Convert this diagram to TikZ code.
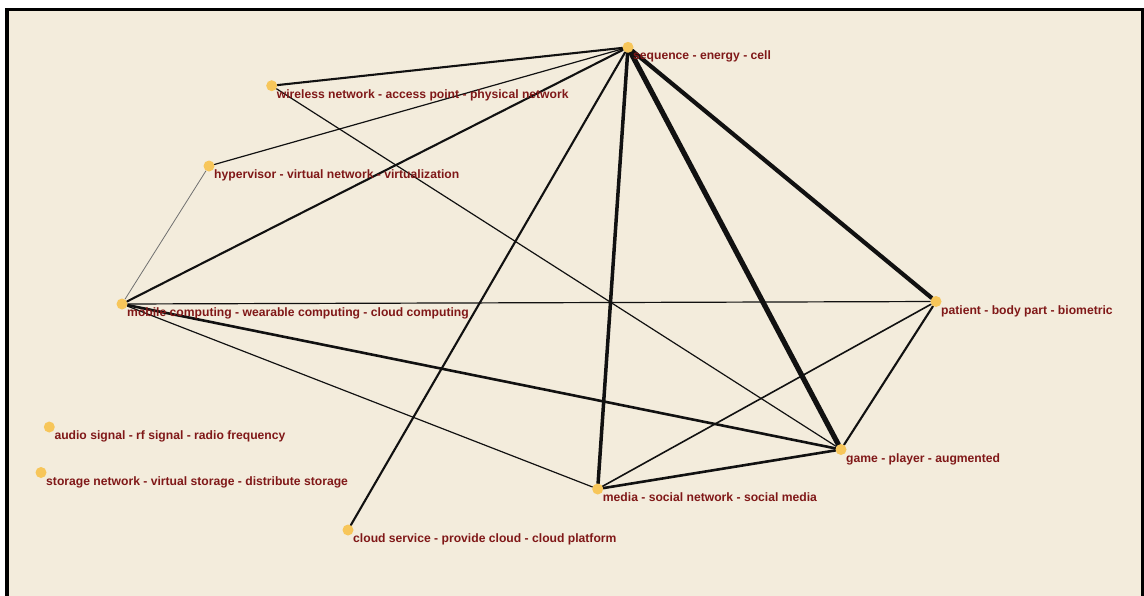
\documentclass[tikz,border=0pt]{standalone}
\usepackage{fontspec}
\setmainfont{Liberation Sans}
\usetikzlibrary{calc}
\definecolor{paper}{RGB}{243,236,220}
\definecolor{dotc}{RGB}{247,198,90}
\definecolor{lblc}{RGB}{128,24,24}
\definecolor{edgec}{RGB}{17,17,17}
\pgfdeclarelayer{bg}
\pgfdeclarelayer{edges}
\pgfsetlayers{bg,edges,main}
\tikzset{
  dot/.style={circle, fill=dotc, inner sep=0pt, minimum size=11pt},
  lbl/.style={anchor=base west, inner sep=0pt, text=lblc,
    font=\fontsize{12.15}{14}\selectfont\bfseries},
  link/.style={draw=edgec, line cap=round},
  w1/.style={link, line width=0.8pt, draw=edgec!60},
  w2/.style={link, line width=1.2pt},
  w3/.style={link, line width=1.6pt},
  w4/.style={link, line width=2.1pt},
  w5/.style={link, line width=2.6pt},
  w6/.style={link, line width=3.5pt},
  w7/.style={link, line width=4.2pt},
  w8/.style={link, line width=5.2pt},
}
% place a dot and its caption below right of it
\newcommand{\term}[4]{%
  \node[dot] (#1) at (#2,#3) {};
  \node[lbl] (#1-t) at ($(#1.center)+(5,12.5)$) {#4};
}
\begin{document}
\begin{tikzpicture}[x=1pt, y=-1pt]
\useasboundingbox (0,0) rectangle (1144,595);
\begin{pgfonlayer}{bg}
  \fill[white] (0,0) rectangle (1144,595);
  \fill[paper] (7,9.5) rectangle (1143,600);
  \draw[line width=3.5pt] (7,600) -- (7,9.5) -- (1143,9.5) -- (1143,600);
\end{pgfonlayer}

\term{seq}{628}{47.3}{sequence - energy - cell}
\term{wifi}{271.7}{85.7}{wireless network - access point - physical network}
\term{hyp}{209}{166}{hypervisor - virtual network - virtualization}
\term{mob}{122}{304}{mobile computing - wearable computing - cloud computing}
\term{pat}{936}{301.5}{patient - body part - biometric}
\term{game}{841}{449.5}{game - player - augmented}
\term{media}{597.7}{489}{media - social network - social media}
\term{cloud}{348}{530}{cloud service - provide cloud - cloud platform}
\term{audio}{49.3}{427}{audio signal - rf signal - radio frequency}
\term{stor}{41}{472.5}{storage network - virtual storage - distribute storage}

\begin{pgfonlayer}{edges}
  \draw[w4] (seq) -- (wifi);
  \draw[w2] (seq) -- (hyp);
  \draw[w4] (seq) -- (mob);
  \draw[w4] (seq) -- (cloud);
  \draw[w6] (seq) -- (media);
  \draw[w8] (seq) -- (game);
  \draw[w7] (seq) -- (pat);
  \draw[w2] (wifi) -- (game);
  \draw[w1] (hyp) -- (mob);
  \draw[w2] (mob) -- (pat);
  \draw[w5] (mob) -- (game);
  \draw[w2] (mob) -- (media);
  \draw[w4] (pat) -- (game);
  \draw[w3] (pat) -- (media);
  \draw[w5] (game) -- (media);
\end{pgfonlayer}
\end{tikzpicture}
\end{document}
